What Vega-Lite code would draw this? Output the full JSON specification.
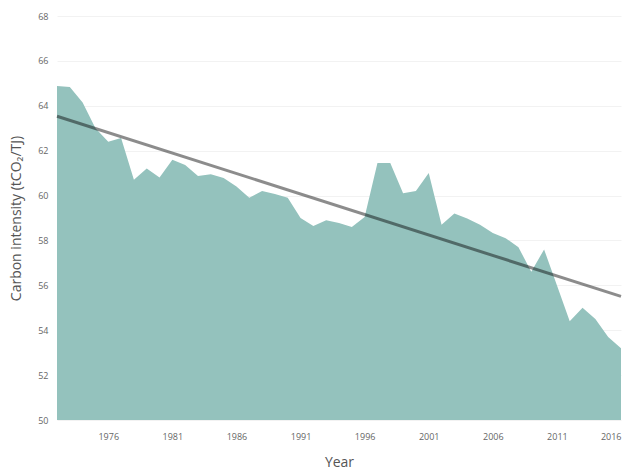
{
  "$schema": "https://vega.github.io/schema/vega-lite/v6.json",
  "width": 564,
  "height": 404,
  "autosize": {"type": "none"},
  "padding": {"left": 57, "top": 16, "right": 2, "bottom": 52},
  "background": "white",
  "config": {
    "view": {"stroke": null},
    "font": "Open Sans"
  },
  "data": {
    "values": [
      {"year": 1972, "value": 64.88},
      {"year": 1973, "value": 64.84},
      {"year": 1974, "value": 64.15},
      {"year": 1975, "value": 63.0},
      {"year": 1976, "value": 62.4},
      {"year": 1977, "value": 62.56},
      {"year": 1978, "value": 60.7},
      {"year": 1979, "value": 61.2},
      {"year": 1980, "value": 60.8},
      {"year": 1981, "value": 61.6},
      {"year": 1982, "value": 61.36},
      {"year": 1983, "value": 60.87},
      {"year": 1984, "value": 60.95},
      {"year": 1985, "value": 60.78},
      {"year": 1986, "value": 60.4},
      {"year": 1987, "value": 59.9},
      {"year": 1988, "value": 60.2},
      {"year": 1989, "value": 60.07},
      {"year": 1990, "value": 59.9},
      {"year": 1991, "value": 59.0},
      {"year": 1992, "value": 58.64},
      {"year": 1993, "value": 58.9},
      {"year": 1994, "value": 58.78},
      {"year": 1995, "value": 58.6},
      {"year": 1996, "value": 59.04},
      {"year": 1997, "value": 61.45},
      {"year": 1998, "value": 61.45},
      {"year": 1999, "value": 60.1},
      {"year": 2000, "value": 60.2},
      {"year": 2001, "value": 61.0},
      {"year": 2002, "value": 58.7},
      {"year": 2003, "value": 59.2},
      {"year": 2004, "value": 58.98},
      {"year": 2005, "value": 58.7},
      {"year": 2006, "value": 58.33},
      {"year": 2007, "value": 58.1},
      {"year": 2008, "value": 57.7},
      {"year": 2009, "value": 56.6},
      {"year": 2010, "value": 57.6},
      {"year": 2011, "value": 56.0},
      {"year": 2012, "value": 54.4},
      {"year": 2013, "value": 55.0},
      {"year": 2014, "value": 54.5},
      {"year": 2015, "value": 53.7},
      {"year": 2016, "value": 53.2}
    ]
  },
  "layer": [
    {
      "mark": {"type": "area", "color": "#94c2bd", "opacity": 1, "clip": true},
      "encoding": {
        "x": {
          "field": "year",
          "type": "quantitative",
          "scale": {"domain": [1972, 2016], "nice": false, "zero": false},
          "axis": {
            "values": [1976, 1981, 1986, 1991, 1996, 2001, 2006, 2011, 2016],
            "format": "d",
            "ticks": false,
            "domain": false,
            "grid": false,
            "labelFlush": false,
            "labelOverlap": false,
            "labelBound": false,
            "labelAlign": {"condition": {"test": "datum.value == 2016", "value": "right"}, "value": "center"},
            "labelFontSize": 9,
            "labelColor": "#666666",
            "labelPadding": 12,
            "title": "Year",
            "titleFontSize": 14,
            "titleFontWeight": "normal",
            "titleColor": "#555555",
            "titlePadding": 14
          }
        },
        "y": {
          "field": "value",
          "type": "quantitative",
          "scale": {"domain": [50, 68], "nice": false, "zero": false},
          "axis": {
            "values": [50, 52, 54, 56, 58, 60, 62, 64, 66, 68],
            "ticks": false,
            "domain": false,
            "grid": true,
            "gridColor": "#f2f2f2",
            "gridWidth": 1,
            "labelFontSize": 9,
            "labelColor": "#666666",
            "labelPadding": 9,
            "title": "Carbon intensity (tCO₂/TJ)",
            "titleFontSize": 14,
            "titleFontWeight": "normal",
            "titleColor": "#555555",
            "titlePadding": 14
          }
        }
      }
    },
    {
      "transform": [{"regression": "value", "on": "year"}],
      "mark": {"type": "line", "color": "#000000", "opacity": 0.45, "strokeWidth": 3},
      "encoding": {
        "x": {"field": "year", "type": "quantitative"},
        "y": {"field": "value", "type": "quantitative"}
      }
    }
  ]
}
